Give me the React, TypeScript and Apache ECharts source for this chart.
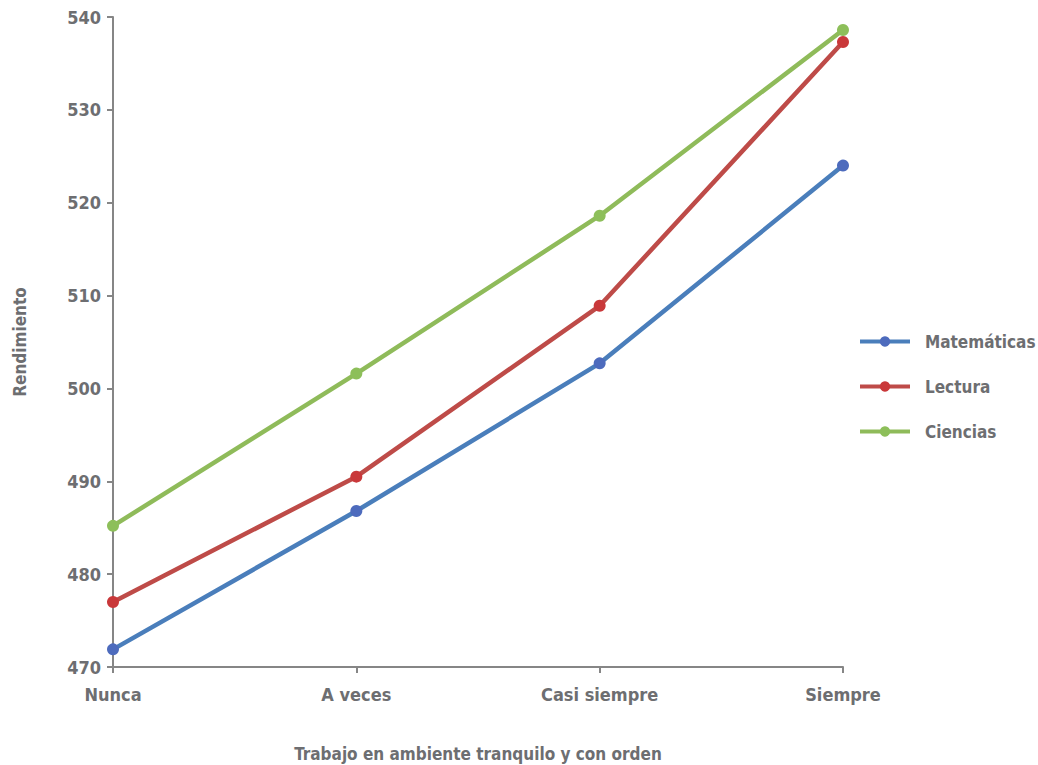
import React, { useEffect, useRef } from "react";
import * as echarts from "echarts";

const categories = ["Nunca", "A veces", "Casi siempre", "Siempre"];
const matematicas = [471.9, 486.8, 502.7, 524.0];
const lectura = [477.0, 490.5, 508.9, 537.3];
const ciencias = [485.2, 501.6, 518.6, 538.6];
const seriesNames = ["Matemáticas", "Lectura", "Ciencias"];

const FONT = "'DejaVu Sans Condensed', 'Liberation Sans Narrow', sans-serif";
const TXT = "#6d6e71";

export default function App() {
  const ref = useRef<HTMLDivElement>(null);
  useEffect(() => {
    if (!ref.current) return;
    const chart = echarts.init(ref.current, undefined, { renderer: "svg" });
    const mk = (name: string, data: number[], line: string, mark: string) => ({
      name,
      type: "line",
      data,
      symbol: "circle",
      symbolSize: 12,
      lineStyle: { color: line, width: 4.5 },
      itemStyle: { color: mark },
      color: line,
    });
    chart.setOption({
      animation: false,
      textStyle: { fontFamily: FONT },
      grid: { left: 113, right: 195, top: 17, bottom: 98, outerBoundsMode: "none", containLabel: false },
      legend: {
        orient: "vertical",
        left: 853,
        top: 328,
        itemWidth: 50,
        itemHeight: 13,
        itemGap: 28,
        lineStyle: { width: 4 },
        textStyle: { color: TXT, fontSize: 17, fontWeight: "bold", fontFamily: FONT, padding: [0, 0, 0, 10] },
        data: seriesNames,
      },
      xAxis: {
        type: "category",
        data: categories,
        boundaryGap: false,
        name: "Trabajo en ambiente tranquilo y con orden",
        nameLocation: "middle",
        nameGap: 78,
        nameTextStyle: { color: TXT, fontSize: 17, fontWeight: "bold", fontFamily: FONT },
        axisLine: { lineStyle: { color: "#868686", width: 2 } },
        axisTick: { show: true, length: 6, alignWithLabel: true, lineStyle: { color: "#868686", width: 2 } },
        axisLabel: { color: TXT, fontSize: 18, fontWeight: "bold", fontFamily: FONT, margin: 18 },
        splitLine: { show: false },
      },
      yAxis: {
        type: "value",
        min: 470,
        max: 540,
        interval: 10,
        name: "Rendimiento",
        nameLocation: "middle",
        nameGap: 85,
        nameRotate: 90,
        nameTextStyle: { color: TXT, fontSize: 17, fontWeight: "bold", fontFamily: FONT },
        axisLine: { show: true, lineStyle: { color: "#868686", width: 2 } },
        axisTick: { show: true, length: 6, lineStyle: { color: "#868686", width: 2 } },
        axisLabel: { color: TXT, fontSize: 18, fontWeight: "bold", fontFamily: FONT, margin: 12 },
        splitLine: { show: false },
      },
      series: [
        mk(seriesNames[0], matematicas, "#4a7ebb", "#4d6bbd"),
        mk(seriesNames[1], lectura, "#be4b48", "#c9383a"),
        mk(seriesNames[2], ciencias, "#8fbb5a", "#8dbf5a"),
      ],
    });
    return () => chart.dispose();
  }, []);
  return <div ref={ref} style={{ width: 1038, height: 765, position: "absolute", left: 0, top: 0 }} />;
}
